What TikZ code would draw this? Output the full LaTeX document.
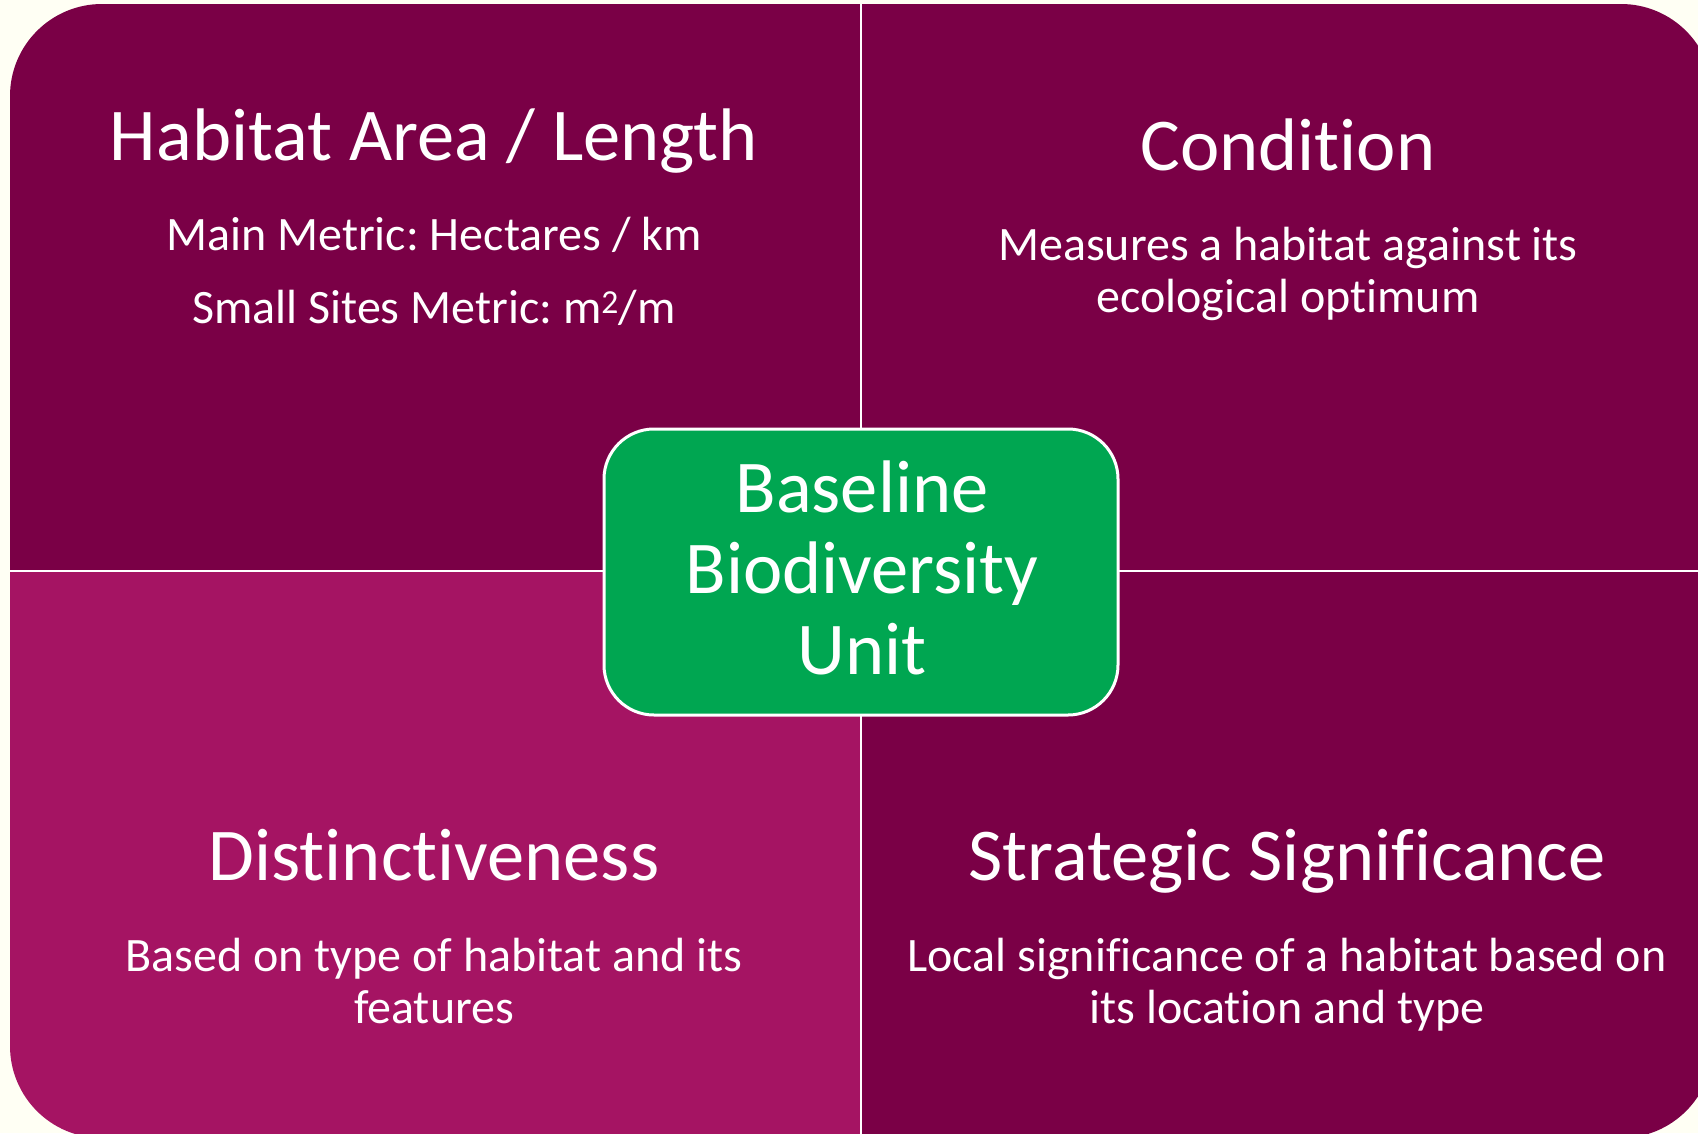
\documentclass[tikz,border=0pt]{standalone}
\usepackage{fontspec}
\setmainfont{Carlito}[Ligatures=NoCommon]
\frenchspacing
\definecolor{bgcream}{HTML}{FFFFF4}
\definecolor{plumdark}{HTML}{7A0046}
\definecolor{plumlight}{HTML}{A51463}
\definecolor{boxgreen}{HTML}{00A651}
\begin{document}
\frenchspacing
\begin{tikzpicture}[x=1pt,y=-1pt,
  title/.style={text=white, font=\fontsize{74.5}{81}\selectfont, anchor=base, inner sep=0pt},
  bodytext/.style={text=white, font=\fontsize{48}{52}\selectfont, anchor=base, inner sep=0pt},
  centertext/.style={text=white, font=\fontsize{74.5}{81}\selectfont, anchor=base, inner sep=0pt},
  divider/.style={draw=white, line width=2.5pt}]
\useasboundingbox (0,0) rectangle (1698,1133);
\fill[bgcream] (0,0) rectangle (1698,1133);
\begin{scope}
  \clip (0,0) rectangle (1698,1133);
  \clip[rounded corners=92pt] (10,4) rectangle (1713,1138);
  \fill[plumdark] (0,0) rectangle (861,571);
  \fill[plumdark] (861,0) rectangle (1720,571);
  \fill[plumlight] (0,571) rectangle (861,1140);
  \fill[plumdark] (861,571) rectangle (1720,1140);
  \coordinate (vtop) at (861,0);
  \coordinate (vbot) at (861,1140);
  \coordinate (hleft) at (0,571);
  \coordinate (hright) at (1720,571);
  \draw[divider] (vtop) -- (vbot);
  \draw[divider] (hleft) -- (hright);
\end{scope}
\node[draw=white, line width=3pt, fill=boxgreen, rounded corners=50pt,
      minimum width=514pt, minimum height=286pt, inner sep=0pt] (bbu) at (861,572) {};
\node[centertext] (bbu1) at (862,512) {Baseline};
\node[centertext] (bbu2) at (862,593) {Biodiversity};
\node[centertext] (bbu3) at (862,674) {Unit};
% top-left
\node[title] (ha) at (434,160) {Habitat Area / Length};
\node[bodytext] (ha1) at (434,250) {Main Metric: Hectares / km};
\node[bodytext] (ha2) at (434,323) {Small Sites Metric: m\textsuperscript{2}/m};
% top-right
\node[title] (co) at (1288,170) {Condition};
\node[bodytext] (co1) at (1288,260) {Measures a habitat against its};
\node[bodytext] (co2) at (1288,312) {ecological optimum};
% bottom-left
\node[title] (di) at (434,880) {Distinctiveness};
\node[bodytext] (di1) at (434,971) {Based on type of habitat and its};
\node[bodytext] (di2) at (434,1023) {features};
% bottom-right
\node[title] (ss) at (1287,880) {Strategic Significance};
\node[bodytext] (ss1) at (1287,971) {Local significance of a habitat based on};
\node[bodytext] (ss2) at (1287,1023) {its location and type};
\end{tikzpicture}
\end{document}
